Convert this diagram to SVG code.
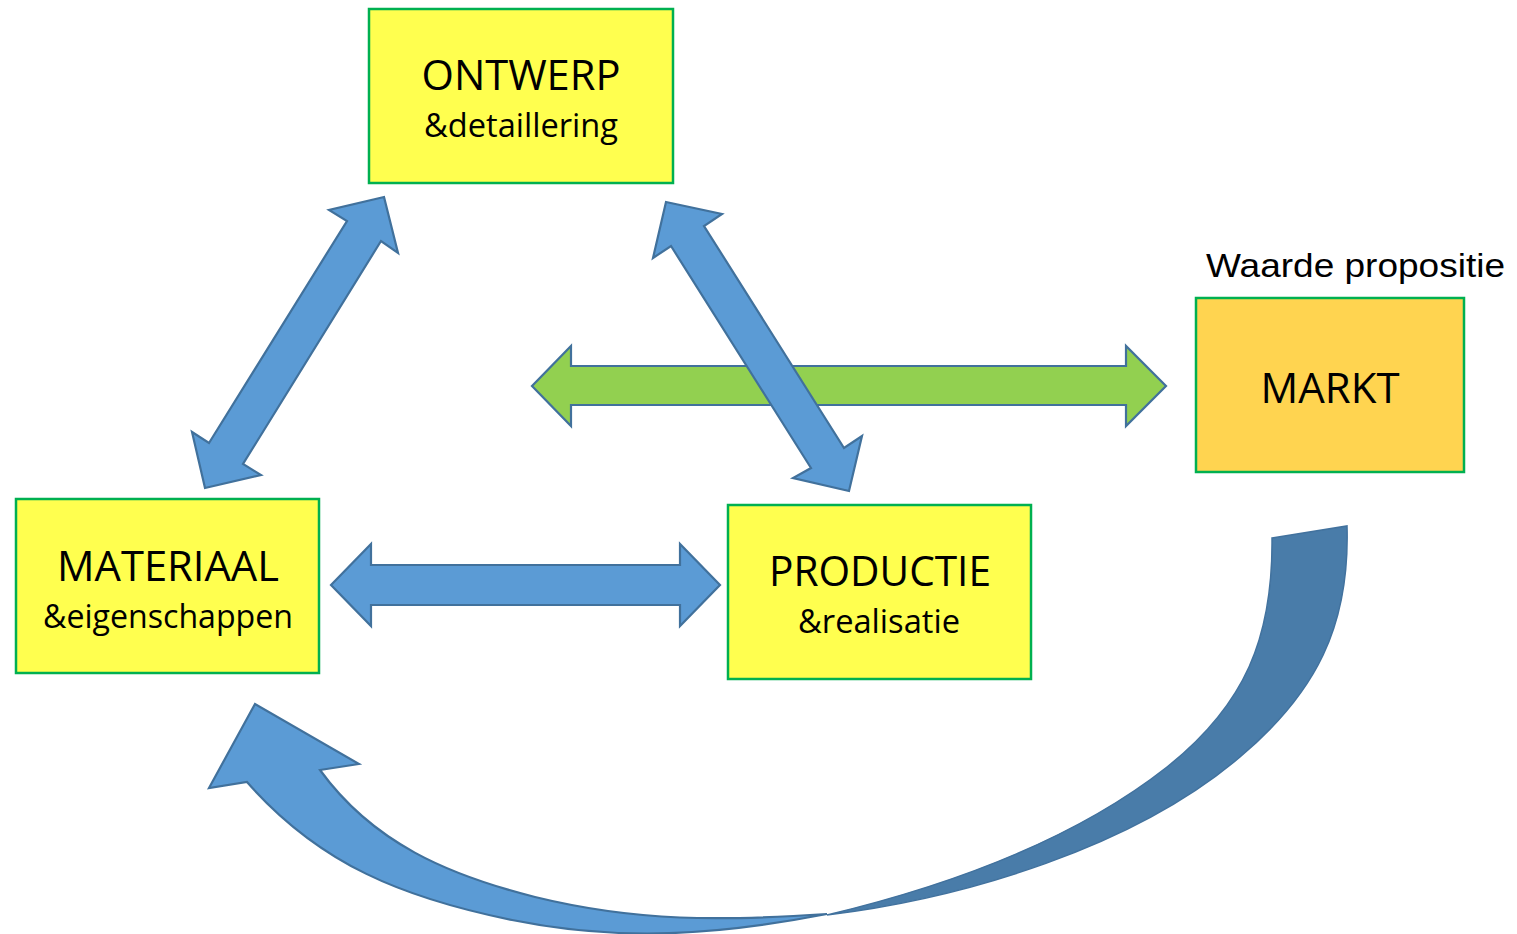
<svg xmlns="http://www.w3.org/2000/svg" width="1517" height="934" viewBox="0 0 1517 934">
<style>
.box{fill:#FFFF4F;stroke:#00B050;stroke-width:2.5}
.markt{fill:#FFD450;stroke:#00B050;stroke-width:2.5}
.arr{fill:#5B9BD5;stroke:#41719C;stroke-width:2.2;stroke-linejoin:miter}
.green{fill:#92D050;stroke:#41719C;stroke-width:2.2}
.back{fill:#497CA9;stroke:#42729E;stroke-width:1.5}
.t1{font-family:"Open Sans","Noto Sans",sans-serif;font-size:42px;fill:#000;text-anchor:middle}
.t2{font-family:"Open Sans","Noto Sans",sans-serif;font-size:32px;fill:#000;text-anchor:middle}
.lbl{font-family:"Liberation Sans",Arial,sans-serif;font-size:33px;fill:#000}
</style>
<rect width="1517" height="934" fill="#ffffff"/>
<g id="connectors">
  <polygon class="green" points="532,386 571,346 571,366 1126,366 1126,346 1166,386 1126,426 1126,405 571,405 571,426"/>
  <polygon class="arr" points="384,197 398,253 381,241 243,464 261,475 205,488 192,432 209,443 347,221 329,210"/>
  <polygon class="arr" points="666,202 722,214 704,226 844,448 862,436 849,491 793,478 811,468 671,246 653,258"/>
  <polygon class="arr" points="331,585 371,544 371,565 680,565 680,544 720,585 680,626 680,605 371,605 371,626"/>
  <path class="back" d="M1272,538 L1347,526 C1350,626 1316,693 1240,757 C1134,847 966,898 827,915 C944,887 1073,841 1167,767 C1245,705 1273,638 1272,538 Z"/>
  <path class="arr" d="M320,770 L359,764 L255,704 L209,788 L247,782 C320,865 404,898 512,920 C620,942 719,935 827,914 C722,921 637,922 535,897 C448,875 373,843 320,770 Z"/>
</g>
<g id="node-ontwerp">
  <rect class="box" x="369" y="9" width="304" height="174"/>
  <text class="t1" x="521" y="90" textLength="199" lengthAdjust="spacingAndGlyphs">ONTWERP</text>
  <text class="t2" x="521" y="137" textLength="194" lengthAdjust="spacingAndGlyphs">&amp;detaillering</text>
</g>
<g id="node-materiaal">
  <rect class="box" x="16" y="499" width="303" height="174"/>
  <text class="t1" x="168" y="581" textLength="222" lengthAdjust="spacingAndGlyphs">MATERIAAL</text>
  <text class="t2" x="168" y="628" textLength="250" lengthAdjust="spacingAndGlyphs">&amp;eigenschappen</text>
</g>
<g id="node-productie">
  <rect class="box" x="728" y="505" width="303" height="174"/>
  <text class="t1" x="880" y="586" textLength="222" lengthAdjust="spacingAndGlyphs">PRODUCTIE</text>
  <text class="t2" x="879" y="633" textLength="162" lengthAdjust="spacingAndGlyphs">&amp;realisatie</text>
</g>
<g id="node-markt">
  <text class="lbl" x="1206" y="277" textLength="299" lengthAdjust="spacingAndGlyphs">Waarde propositie</text>
  <rect class="markt" x="1196" y="298" width="268" height="174"/>
  <text class="t1" x="1330" y="403" textLength="139" lengthAdjust="spacingAndGlyphs">MARKT</text>
</g>
</svg>
